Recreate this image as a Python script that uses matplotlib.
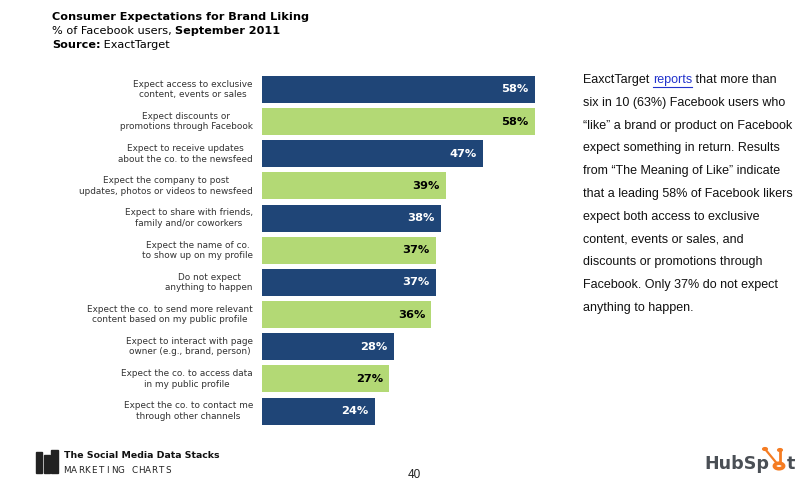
import matplotlib
matplotlib.use("Agg")
import matplotlib.pyplot as plt
from matplotlib.patches import Rectangle, Circle

categories = [
    "Expect access to exclusive\ncontent, events or sales",
    "Expect discounts or\npromotions through Facebook",
    "Expect to receive updates\nabout the co. to the newsfeed",
    "Expect the company to post\nupdates, photos or videos to newsfeed",
    "Expect to share with friends,\nfamily and/or coworkers",
    "Expect the name of co.\nto show up on my profile",
    "Do not expect\nanything to happen",
    "Expect the co. to send more relevant\ncontent based on my public profile",
    "Expect to interact with page\nowner (e.g., brand, person)",
    "Expect the co. to access data\nin my public profile",
    "Expect the co. to contact me\nthrough other channels",
]
values = [58, 58, 47, 39, 38, 37, 37, 36, 28, 27, 24]
value_labels = [f"{v}%" for v in values]

title = "Consumer Expectations for Brand Liking"
subtitle_a = "% of Facebook users, "
subtitle_b = "September 2011"
source_a = "Source:"
source_b = " ExactTarget"

side_lines = [
    "EaxctTarget ", "six in 10 (63%) Facebook users who",
    "\u201clike\u201d a brand or product on Facebook",
    "expect something in return. Results",
    "from \u201cThe Meaning of Like\u201d indicate",
    "that a leading 58% of Facebook likers",
    "expect both access to exclusive",
    "content, events or sales, and",
    "discounts or promotions through",
    "Facebook. Only 37% do not expect",
    "anything to happen.",
]

BLUE = "#1f4577"
GREEN = "#b3d975"
ORANGE = "#f57c22"

W, H = 811, 486
fig = plt.figure(figsize=(W / 100, H / 100), dpi=100)
fig.patch.set_facecolor("white")

def fx(px):
    return px / W

def fy(py):
    return 1 - py / H

# axes
x0, x1 = 262, 535
top, bot = 73.4, 427.2
ax = fig.add_axes([fx(x0), fy(bot), fx(x1 - x0), (bot - top) / H])
n = len(values)
ypos = list(range(n))
colors = [BLUE if i % 2 == 0 else GREEN for i in range(n)]
ax.barh(ypos, values, height=0.84, color=colors, edgecolor="none")
ax.set_xlim(0, 58)
ax.set_ylim(n - 0.5, -0.5)
ax.axis("off")
for i, (v, lab) in enumerate(zip(values, value_labels)):
    ax.annotate(lab, (v, i), xytext=(-4.5, 0), textcoords="offset points",
                ha="right", va="center", fontsize=8.2, fontweight="bold",
                color="white" if i % 2 == 0 else "black", family="DejaVu Sans")
    ax.annotate(categories[i], (0, i), xytext=(-6.5, 0), textcoords="offset points",
                ha="right", va="center", multialignment="center",
                fontsize=6.4, color="#333333", family="DejaVu Sans",
                linespacing=1.2)

# title block
fs_t = 8.1
fig.text(fx(52), fy(17), title, fontsize=fs_t, fontweight="bold",
         va="center", ha="left", family="DejaVu Sans")
s1 = fig.text(fx(52), fy(31), subtitle_a, fontsize=fs_t, va="center", ha="left",
              family="DejaVu Sans")
fig.canvas.draw()
r = fig.canvas.get_renderer()
bb = s1.get_window_extent(r)
fig.text(bb.x1 / W, fy(31), subtitle_b, fontsize=fs_t, fontweight="bold",
         va="center", ha="left", family="DejaVu Sans")
so = fig.text(fx(52), fy(45), source_a, fontsize=fs_t, fontweight="bold",
              va="center", ha="left", family="DejaVu Sans")
bb2 = so.get_window_extent(r)
fig.text(bb2.x1 / W, fy(45), source_b, fontsize=fs_t, va="center", ha="left",
         family="DejaVu Sans")

# side text
sx = 583
fs_s = 9.0
for k, line in enumerate(side_lines):
    y = 80 + k * 22.75
    tt = fig.text(fx(sx), fy(y), line, fontsize=fs_s, va="center", ha="left",
                  family="Liberation Sans", color="#111111")
    if k == 0:
        fig.canvas.draw()
        b = tt.get_window_extent(r)
        rp = fig.text(b.x1 / W, fy(y), "reports", fontsize=fs_s, va="center",
                      ha="left", family="Liberation Sans", color="#2233cc")
        fig.canvas.draw()
        b2 = rp.get_window_extent(r)
        fig.add_artist(plt.Line2D([b2.x0 / W, b2.x1 / W],
                                  [fy(y + 6.5), fy(y + 6.5)], color="#2233cc", lw=0.8))
        fig.text(b2.x1 / W, fy(y), " that more than", fontsize=fs_s, va="center",
                 ha="left", family="Liberation Sans", color="#111111")

# page number
fig.text(fx(414), fy(475), "40", fontsize=8.5, ha="center", va="center",
         family="Liberation Sans", color="#222222")

# Marketing charts logo
for (lx, ly, lw, lh) in [(36, 452, 6, 21), (44, 455, 6, 18), (51, 450, 7, 23)]:
    fig.add_artist(Rectangle((fx(lx), fy(ly + lh)), lw / W, lh / H,
                             color="#222222", transform=fig.transFigure))
fig.text(fx(64), fy(456), "The Social Media Data Stacks", fontsize=6.75,
         fontweight="bold", va="center", ha="left", family="DejaVu Sans", color="#111111")
for i, ch in enumerate("MARKETING CHARTS"):
    fig.text(fx(67.3 + i * 6.7), fy(470), ch, fontsize=6.3,
             va="center", ha="center", family="DejaVu Sans", color="#222222")

# HubSpot logo
hs = fig.text(fx(704), fy(464), "HubSp", fontsize=12.6, fontweight="bold",
              va="center", ha="left", family="DejaVu Sans", color="#4a4f55")
fig.canvas.draw()
hb = hs.get_window_extent(r)
cx = hb.x1 + 10
cy = 466
fig.add_artist(plt.Line2D([cx / W, (cx - 14) / W], [fy(cy), fy(449)],
                          color=ORANGE, lw=1.6))
fig.add_artist(plt.Line2D([(cx + 1) / W, (cx + 1) / W], [fy(cy), fy(451)],
                          color=ORANGE, lw=2.0))
fig.add_artist(Circle((cx / W, fy(cy)), 4.6 / W, transform=fig.transFigure,
                      facecolor="white", edgecolor=ORANGE, lw=2.6, zorder=5))
fig.add_artist(Circle(((cx - 14) / W, fy(449)), 2.3 / W, transform=fig.transFigure,
                      color=ORANGE))
fig.add_artist(Circle(((cx + 1) / W, fy(450)), 2.3 / W, transform=fig.transFigure,
                      color=ORANGE))
fig.text((cx + 8) / W, fy(464), "t", fontsize=12.6, fontweight="bold",
         va="center", ha="left", family="DejaVu Sans", color="#4a4f55", zorder=6)

fig.savefig("out.png", dpi=100)
